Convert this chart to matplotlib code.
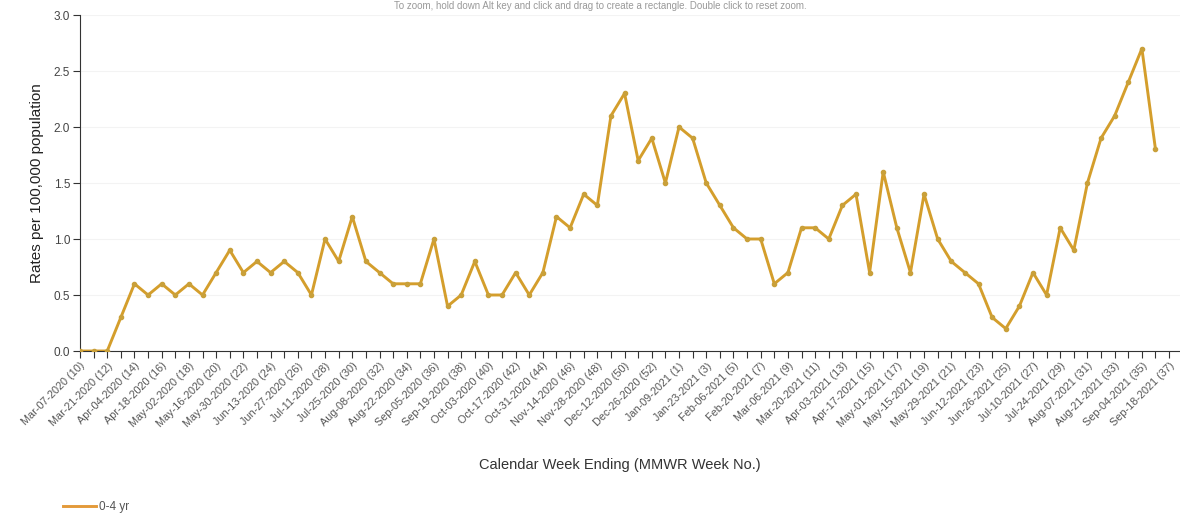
import matplotlib
matplotlib.use('Agg')
import matplotlib.pyplot as plt
import numpy as np

plt.rcParams['font.family'] = ['Liberation Sans', 'DejaVu Sans']

# weekly rates, 0-4 yr, weeks ending Mar-07-2020 .. Sep-11-2021
rates = [0.0, 0.0, 0.0, 0.3, 0.6, 0.5, 0.6, 0.5, 0.6, 0.5,
         0.7, 0.9, 0.7, 0.8, 0.7, 0.8, 0.7, 0.5, 1.0, 0.8,
         1.2, 0.8, 0.7, 0.6, 0.6, 0.6, 1.0, 0.4, 0.5, 0.8,
         0.5, 0.5, 0.7, 0.5, 0.7, 1.2, 1.1, 1.4, 1.3, 2.1,
         2.3, 1.7, 1.9, 1.5, 2.0, 1.9, 1.5, 1.3, 1.1, 1.0,
         1.0, 0.6, 0.7, 1.1, 1.1, 1.0, 1.3, 1.4, 0.7, 1.6,
         1.1, 0.7, 1.4, 1.0, 0.8, 0.7, 0.6, 0.3, 0.2, 0.4,
         0.7, 0.5, 1.1, 0.9, 1.5, 1.9, 2.1, 2.4, 2.7, 1.8]

# every other week gets a label
week_labels = ['Mar-07-2020 (10)', 'Mar-21-2020 (12)', 'Apr-04-2020 (14)', 'Apr-18-2020 (16)',
               'May-02-2020 (18)', 'May-16-2020 (20)', 'May-30-2020 (22)', 'Jun-13-2020 (24)',
               'Jun-27-2020 (26)', 'Jul-11-2020 (28)', 'Jul-25-2020 (30)', 'Aug-08-2020 (32)',
               'Aug-22-2020 (34)', 'Sep-05-2020 (36)', 'Sep-19-2020 (38)', 'Oct-03-2020 (40)',
               'Oct-17-2020 (42)', 'Oct-31-2020 (44)', 'Nov-14-2020 (46)', 'Nov-28-2020 (48)',
               'Dec-12-2020 (50)', 'Dec-26-2020 (52)', 'Jan-09-2021 (1)', 'Jan-23-2021 (3)',
               'Feb-06-2021 (5)', 'Feb-20-2021 (7)', 'Mar-06-2021 (9)', 'Mar-20-2021 (11)',
               'Apr-03-2021 (13)', 'Apr-17-2021 (15)', 'May-01-2021 (17)', 'May-15-2021 (19)',
               'May-29-2021 (21)', 'Jun-12-2021 (23)', 'Jun-26-2021 (25)', 'Jul-10-2021 (27)',
               'Jul-24-2021 (29)', 'Aug-07-2021 (31)', 'Aug-21-2021 (33)', 'Sep-04-2021 (35)',
               'Sep-18-2021 (37)']

series_name = '0-4 yr'
line_col = '#D49E2C'

fig = plt.figure(figsize=(11.8, 5.19), dpi=100)
ax = fig.add_axes([80/1180, 1-351/519, 1100/1180, 336/519])

x = np.arange(len(rates))
ax.plot(x, rates, color=line_col, lw=2.1, marker='o', ms=3.0,
        mfc='#C9A03A', mec='#C9A03A', label=series_name, zorder=3)

ax.set_xlim(0, 80.8)
ax.set_ylim(0, 3.0)
ax.set_yticks(np.arange(0, 3.01, 0.5))
ax.set_yticklabels(['%.1f' % v for v in np.arange(0, 3.01, 0.5)], fontsize=8.5, color='#444444')
ax.yaxis.grid(True, color='#f3f3f3', lw=0.8)
ax.set_axisbelow(True)

major = np.arange(0, 2*len(week_labels), 2)
ax.set_xticks(major)
ax.set_xticklabels(week_labels, rotation=45, ha='right', va='top',
                   rotation_mode='anchor', fontsize=7.8, color='#555555')
ax.set_xticks(np.arange(1, 81, 2), minor=True)
ax.tick_params(axis='x', which='both', length=5, width=0.8, color='#333333', pad=2)
ax.tick_params(axis='y', length=5, width=0.8, color='#333333', pad=2)

for s in ['top', 'right']:
    ax.spines[s].set_visible(False)
ax.spines['left'].set_color('#333333')
ax.spines['bottom'].set_color('#333333')

ax.set_ylabel('Rates per 100,000 population', fontsize=11, color='#222222', labelpad=7)
fig.text(620/1180, 1-465/519, 'Calendar Week Ending (MMWR Week No.)',
         ha='center', va='center', fontsize=10.5, color='#333333')

fig.text(600/1180, 1-1/519,
         'To zoom, hold down Alt key and click and drag to create a rectangle. Double click to reset zoom.',
         ha='center', va='top', fontsize=7, color='#999999')

leg = fig.legend(loc='center left', bbox_to_anchor=(52/1180, 1-507/519), frameon=False,
                 fontsize=8.5, handlelength=2.8, handletextpad=0.3)
leg.get_lines()[0].set_marker('')
leg.get_lines()[0].set_color('#E39A3A')
for t in leg.get_texts():
    t.set_color('#555555')

fig.savefig('out.png', dpi=100)
